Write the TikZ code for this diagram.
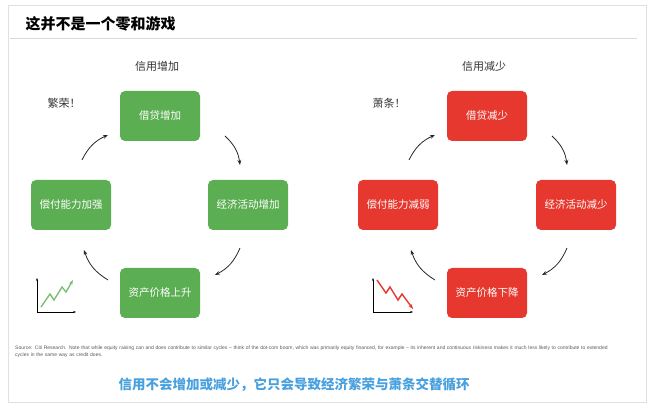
\documentclass[tikz,border=0pt]{standalone}
\usepackage{fontspec}
\setmainfont{Liberation Sans}
\newfontfamily\cjk{Noto Sans CJK SC}
\usetikzlibrary{arrows.meta}
\definecolor{boomgreen}{RGB}{92,174,82}
\definecolor{bustred}{RGB}{230,56,46}
\definecolor{noteblue}{RGB}{72,160,222}
\tikzset{
  stepbox/.style={rounded corners=5pt, minimum width=80pt, minimum height=50pt, text=white, font=\cjk\fontsize{10.5}{12}\selectfont, inner sep=1pt},
  greenbox/.style={stepbox, fill=boomgreen},
  redbox/.style={stepbox, fill=bustred},
  cyc/.style={-{Stealth[length=5pt]}, thick, black!85},
  caption/.style={font=\cjk\fontsize{11}{13}\selectfont, text=black!80},
}
\begin{document}
\begin{tikzpicture}[x=1pt,y=-1pt]
\useasboundingbox (0,0) rectangle (654,411);
\draw[black!12] (8,5) rectangle (646,402);
%Header
\node[anchor=west, font=\cjk\bfseries\fontsize{15}{17}\selectfont] (title) at (22,24) {这并不是一个零和游戏};
\draw[black!15] (10,38) -- (637,38);
%Green cycle
\node[caption] (upcap) at (157,66) {信用增加};
\node[caption] (boom) at (64,103) {繁荣！};
\node[greenbox] (gtop) at (160,116) {借贷增加};
\node[greenbox] (gright) at (248,205) {经济活动增加};
\node[greenbox] (gleft) at (71,205) {偿付能力加强};
\node[greenbox] (gbot) at (160,293) {资产价格上升};
\draw[cyc] (82,160) to[bend left=20] (108,135);
\draw[cyc] (225,136) to[bend left=20] (240,165);
\draw[cyc] (240,248) to[bend left=20] (215,275);
\draw[cyc] (108,280) to[bend left=20] (84,250);
%Red cycle
\node[caption] (downcap) at (484,66) {信用减少};
\node[caption] (bust) at (389,103) {萧条！};
\node[redbox] (rtop) at (487,116) {借贷减少};
\node[redbox] (rright) at (576,205) {经济活动减少};
\node[redbox] (rleft) at (398,205) {偿付能力减弱};
\node[redbox] (rbot) at (487,293) {资产价格下降};
\draw[cyc] (409,160) to[bend left=20] (435,135);
\draw[cyc] (552,136) to[bend left=20] (567,165);
\draw[cyc] (567,248) to[bend left=20] (542,275);
\draw[cyc] (435,280) to[bend left=20] (411,250);
%Charts
\draw[{Stealth[length=3pt]}-{Stealth[length=3pt]}, thick] (37,278) -- (37,312) -- (76,312);
\draw[-{Stealth[length=5pt]}, boomgreen!80!white, line width=1.4pt] (41,307) -- (50,294) -- (54,300) -- (62,287) -- (66,292) -- (73,280);
\draw[{Stealth[length=3pt]}-{Stealth[length=3pt]}, thick] (373,278) -- (373,312) -- (413,312);
\draw[-{Stealth[length=5pt]}, bustred, line width=1.4pt] (377,280) -- (386,293) -- (390,287) -- (398,300) -- (402,294) -- (413,309);
%Notes
\node[anchor=north west, text width=600pt, font=\fontsize{5}{6.5}\selectfont, text=black!65, inner sep=0pt] (source) at (15,346) {Source: Citi Research. Note that while equity raising can and does contribute to similar cycles -- think of the dot-com boom, which was primarily equity financed, for example -- its inherent and continuous riskiness makes it much less likely to contribute to extended cycles in the same way as credit does.};
\node[font=\cjk\bfseries\fontsize{13.5}{16}\selectfont, text=noteblue] (summary) at (294,385) {信用不会增加或减少，它只会导致经济繁荣与萧条交替循环};
\end{tikzpicture}
\end{document}
